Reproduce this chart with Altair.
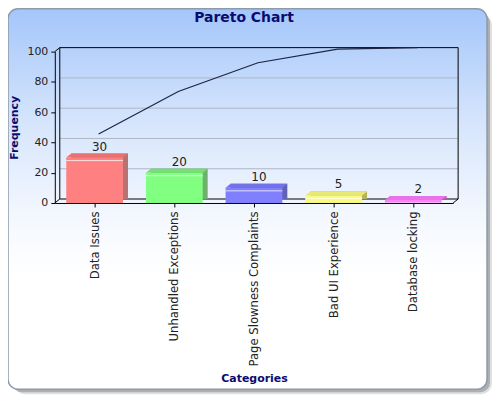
import altair as alt
import pandas as pd

# ---- data ----
categories = ["Data Issues", "Unhandled Exceptions", "Page Slowness Complaints",
              "Bad UI Experience", "Database locking"]
frequency = [30, 20, 10, 5, 2]
cumulative_pct = [43, 71, 90, 99, 100]
y_ticks = [0, 20, 40, 60, 80, 100]
grid_values = [20, 40, 60, 80]
chart_title = ["Pareto Chart"]

# ---- styles ----
front_colors = ["#FF8080", "#80FF80", "#8080FF", "#FAFA82", "#FF80FF"]
top_colors = ["#E87272", "#72E072", "#7272E8", "#E8E874", "#E872E8"]
side_colors = ["#B87272", "#6FB06F", "#6262B4", "#B4B464", "#B062B0"]
NAVY = "#0C0C70"
FONT = "DejaVu Sans"
W, H = 400, 152
DX, DY = 5, -4

df = pd.DataFrame({"category": categories, "frequency": frequency,
                   "cumulative": cumulative_pct})
grid_df = pd.DataFrame({"v": grid_values})
one = pd.DataFrame({"a": [0]})
title_df = pd.DataFrame({"t": chart_title})

xscale = alt.Scale(domain=categories, paddingInner=0.2875, paddingOuter=0.14375)
yscale = alt.Scale(domain=[0, 100], nice=False)

x_axis = alt.Axis(labelAngle=-90, labelFont=FONT, labelFontSize=11.7, labelColor="#222222",
                  domainColor="black", tickColor="black", tickSize=4, labelPadding=4,
                  titleFont=FONT, titleFontSize=11, titleFontWeight="bold", titleColor=NAVY,
                  titleX=200, titleY=179, titleBaseline="alphabetic", zindex=1, grid=False)
y_axis = alt.Axis(values=y_ticks, labelFont=FONT, labelFontSize=11, labelColor="#222222",
                  domainColor="black", tickColor="black", tickSize=4, labelPadding=3,
                  titleFont=FONT, titleFontSize=11, titleFontWeight="bold", titleColor=NAVY,
                  titleX=-40, titleY=76, titleBaseline="middle", titleAngle=-90,
                  zindex=1, grid=False)

X = alt.X("category:N", scale=xscale, sort=categories, axis=x_axis, title="Categories")


def yq(field):
    return alt.Y(field, scale=yscale, axis=y_axis, title="Frequency")


def col(rng):
    return alt.Color("category:N", scale=alt.Scale(domain=categories, range=rng), legend=None)


# background panel with shadow
shadow2 = alt.Chart(one).mark_rect(color="#000000", opacity=0.12, cornerRadius=11).encode(
    x=alt.value(-41), x2=alt.value(439), y=alt.value(-37), y2=alt.value(344))
shadow1 = alt.Chart(one).mark_rect(color="#000000", opacity=0.22, cornerRadius=10).encode(
    x=alt.value(-43), x2=alt.value(437), y=alt.value(-39), y2=alt.value(342))
panel = alt.Chart(one).mark_rect(
    cornerRadius=10, stroke="#8C9AAA", strokeWidth=1.5,
    color=alt.Gradient(gradient="linear", x1=0, x2=0, y1=0, y2=1,
                       stops=[alt.GradientStop(color="#A4C6FA", offset=0),
                              alt.GradientStop(color="#D6E5FC", offset=0.3),
                              alt.GradientStop(color="#F4F8FE", offset=0.55),
                              alt.GradientStop(color="#FFFFFF", offset=0.7),
                              alt.GradientStop(color="#FFFFFF", offset=1)])
).encode(x=alt.value(-47), x2=alt.value(434), y=alt.value(-43), y2=alt.value(339))

title = alt.Chart(title_df).mark_text(font=FONT, fontSize=14, fontWeight="bold", color=NAVY,
                                      align="center", baseline="alphabetic").encode(
    text="t:N", x=alt.value(190), y=alt.value(-30))

grid = alt.Chart(grid_df).mark_rule(color="#AEB6C2", strokeWidth=1, yOffset=DY).encode(
    y=yq("v:Q"), x=alt.value(DX), x2=alt.value(W + DX))

frame = alt.Chart(one).mark_rect(fillOpacity=0, stroke="black", strokeWidth=1).encode(
    x=alt.value(DX), x2=alt.value(W + DX), y=alt.value(DY), y2=alt.value(H + DY))
diag_tl = alt.Chart(one).mark_rule(color="black").encode(
    x=alt.value(0), x2=alt.value(DX), y=alt.value(0), y2=alt.value(DY))
diag_bl = alt.Chart(one).mark_rule(color="black").encode(
    x=alt.value(0), x2=alt.value(DX), y=alt.value(H), y2=alt.value(H + DY))
diag_br = alt.Chart(one).mark_rule(color="black").encode(
    x=alt.value(W), x2=alt.value(W + DX), y=alt.value(H), y2=alt.value(H + DY))

base = alt.Chart(df)
back = base.mark_bar(xOffset=DX, yOffset=DY, y2Offset=DY).encode(
    x=X, y=yq("frequency:Q"), color=col(side_colors))
top = base.mark_point(shape="M-28.5,0L28.5,0L33.5,-4L-23.5,-4Z", size=4, filled=True,
                      opacity=1, strokeWidth=0).encode(
    x=X, y=yq("frequency:Q"), color=col(top_colors))
front = base.mark_bar().encode(x=X, y=yq("frequency:Q"), color=col(front_colors))
hilite = base.mark_point(shape="M-28.5,3L28.5,3", size=4, filled=False, color="white",
                         opacity=0.75, strokeWidth=1).encode(x=X, y=yq("frequency:Q"))
line = base.mark_line(color="#1C2444", strokeWidth=1.2, xOffset=4, yOffset=DY).encode(
    x=X, y=yq("cumulative:Q"))
labels = base.mark_text(font=FONT, fontSize=12, color="#222222", dx=5, dy=-7,
                        baseline="alphabetic").encode(x=X, y=yq("frequency:Q"),
                                                      text="frequency:Q")

chart = alt.layer(
    shadow2, shadow1, panel, title, grid, frame, diag_tl, diag_bl, diag_br,
    back, top, front, hilite, line, labels
).resolve_scale(color="independent").properties(
    width=W, height=H,
    padding={"left": 47, "top": 43, "right": 39, "bottom": 192},
    autosize=alt.AutoSizeParams(type="none"),
).configure_view(stroke=None)

chart.save("out.html", embed_options={"renderer": "svg", "actions": False})
